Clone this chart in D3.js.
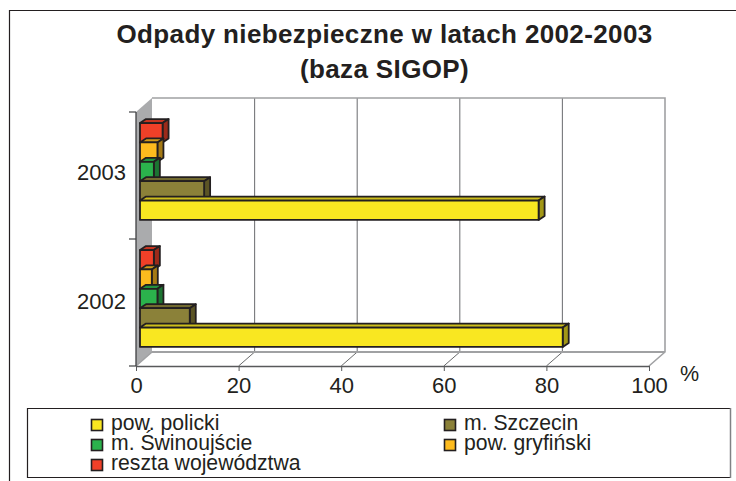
<!DOCTYPE html>
<html>
<head>
<meta charset="utf-8">
<script src="https://cdn.jsdelivr.net/npm/d3@7"></script>
<style>
  html, body { margin: 0; padding: 0; background: #fff; }
  text { font-family: "Liberation Sans", Arial, sans-serif; fill: #231f20; }
</style>
</head>
<body>
<div id="chart"></div>
<script>
{
  // Data //////////////////////////////////////////////////////////////////
  const years = ['2002', '2003'];
  const seriesNames = ['pow. policki', 'm. Szczecin', 'm. Świnoujście', 'pow. gryfiński', 'reszta województwa'];
  const values2002 = [82.4, 9.7, 3.4, 2.3, 2.7];
  const values2003 = [77.7, 12.5, 2.7, 3.4, 4.4];
  const valuesByYear = { '2002': values2002, '2003': values2003 };
  const xTicks = [0, 20, 40, 60, 80, 100];
  const titleLines = ['Odpady niebezpieczne w latach 2002-2003', '(baza SIGOP)'];

  const seriesColors = ['#f9e721', '#8b8139', '#2bb24c', '#fdbb1e', '#f04028'];
  const ink = '#231f20';
  const wallGrey = '#aaabad';

  const width = 736, height = 481;
  const svg = d3.select('#chart').append('svg')
    .attr('width', width)
    .attr('height', height)
    .style('display', 'block');

  // Outer frame: left and top only, it runs off the picture
  svg.append('path')
    .attr('d', 'M9.5,481V10.5H736')
    .attr('fill', 'none')
    .attr('stroke', ink)
    .attr('stroke-width', 1.2);

  // Title
  svg.selectAll('.title')
    .data(titleLines)
    .enter().append('text')
    .attr('class', 'title')
    .attr('x', 384.5)
    .attr('y', (d, i) => 43 + i * 34.5)
    .attr('text-anchor', 'middle')
    .attr('font-size', 26)
    .attr('font-weight', 'bold')
    .attr('letter-spacing', 0.37)
    .text(d => d);

  // Scales ////////////////////////////////////////////////////////////////
  const x = d3.scaleLinear().domain([0, 100]).range([136, 649]);
  const y = d3.scaleBand().domain(years).range([366, 112]);
  const ySeries = d3.scaleBand()
    .domain(seriesNames)
    .range([y.bandwidth(), 0])
    .paddingOuter(0.78);

  // Depth of the 3D box and of the bars in it
  const wall = { dx: 16, dy: -14 };
  const barShift = { dx: 4, dy: -4 };
  const barDepth = { dx: 6, dy: -4 };

  const [x0, x1] = x.range();
  const [yBottom, yTop] = y.range();

  // Box ///////////////////////////////////////////////////////////////////
  const box = svg.append('g');

  // Left wall
  box.append('path')
    .attr('d', `M${x0},${yBottom}L${x0},${yTop}L${x0 + wall.dx},${yTop + wall.dy}L${x0 + wall.dx},${yBottom + wall.dy}Z`)
    .attr('fill', wallGrey);

  // Grid on the back plane and on the floor
  box.selectAll('.grid')
    .data(xTicks.slice(1, -1))
    .enter().append('path')
    .attr('class', 'grid')
    .attr('d', d => `M${x(d) + wall.dx},${yTop + wall.dy}V${yBottom + wall.dy}`)
    .attr('stroke', '#77787b')
    .attr('stroke-width', 1.1)
    .attr('fill', 'none');

  box.selectAll('.floor-grid')
    .data(xTicks.slice(1, -1))
    .enter().append('path')
    .attr('class', 'floor-grid')
    .attr('d', d => `M${x(d)},${yBottom}L${x(d) + wall.dx},${yBottom + wall.dy}`)
    .attr('stroke', '#58595b')
    .attr('stroke-width', 0.9)
    .attr('fill', 'none');

  // Top, right and back floor edges
  box.append('path')
    .attr('d', `M${x0 + wall.dx},${yTop + wall.dy}H${x1 + wall.dx}V${yBottom + wall.dy}L${x1},${yBottom}`)
    .attr('stroke', '#a0a1a3')
    .attr('stroke-width', 1.6)
    .attr('fill', 'none');
  box.append('path')
    .attr('d', `M${x0 + wall.dx},${yBottom + wall.dy}H${x1 + wall.dx}`)
    .attr('stroke', '#a0a1a3')
    .attr('stroke-width', 2)
    .attr('fill', 'none');
  box.append('path')
    .attr('d', `M${x0},${yBottom}L${x0 + wall.dx},${yBottom + wall.dy}`)
    .attr('stroke', '#a0a1a3')
    .attr('stroke-width', 1.5)
    .attr('fill', 'none');

  // Axes //////////////////////////////////////////////////////////////////
  const xAxis = svg.append('g')
    .attr('transform', `translate(0,${yBottom})`)
    .call(d3.axisBottom(x).tickValues(xTicks).tickSize(5).tickPadding(6).tickSizeOuter(0));
  xAxis.select('.domain').attr('stroke', '#58595b').attr('stroke-width', 1.3);
  xAxis.selectAll('.tick line').attr('stroke', '#58595b').attr('stroke-width', 1);
  xAxis.selectAll('.tick text')
    .attr('font-size', 22)
    .attr('font-family', '"Liberation Sans", Arial, sans-serif')
    .attr('fill', ink);

  const yAxis = svg.append('g')
    .attr('transform', `translate(${x0},0)`)
    .call(d3.axisLeft(y).tickSize(0).tickPadding(10));
  yAxis.select('.domain').remove();
  yAxis.selectAll('.tick text')
    .attr('font-size', 22)
    .attr('font-family', '"Liberation Sans", Arial, sans-serif')
    .attr('fill', ink)
    .attr('y', d => d === '2003' ? -2.5 : -1);

  // Left axis line with ticks at the band edges
  svg.append('path')
    .attr('d', `M${x0},${yTop}V${yBottom}`)
    .attr('stroke', '#3f4042')
    .attr('stroke-width', 1.3);
  svg.selectAll('.band-tick')
    .data([yTop, y('2002'), yBottom])
    .enter().append('path')
    .attr('class', 'band-tick')
    .attr('d', d => `M${x0 - 7},${d}H${x0}`)
    .attr('stroke', '#3f4042')
    .attr('stroke-width', 1.2);

  // Percent sign next to the axis
  svg.append('text')
    .attr('x', 680)
    .attr('y', 381)
    .attr('font-size', 21.5)
    .text('%');

  // Bars //////////////////////////////////////////////////////////////////
  // Each bar is a front rectangle with a side and a top face behind it.
  // Drawn from the top category downwards so lower bars overlap upper depth.
  const barData = [];
  ['2003', '2002'].forEach(year => {
    seriesNames.slice().reverse().forEach(name => {
      const i = seriesNames.indexOf(name);
      barData.push({ year, name, value: valuesByYear[year][i], color: seriesColors[i] });
    });
  });

  const bars = svg.selectAll('.bar')
    .data(barData)
    .enter().append('g')
    .attr('class', 'bar')
    .attr('stroke', ink)
    .attr('stroke-width', 1.8)
    .attr('stroke-linejoin', 'round');

  const left = () => x0 + barShift.dx;
  const right = d => x(d.value) + barShift.dx;
  const top = d => y(d.year) + ySeries(d.name) + barShift.dy;
  const bottom = d => top(d) + ySeries.bandwidth();

  // Top face
  bars.append('path')
    .attr('d', d => `M${left()},${top(d)}l${barDepth.dx},${barDepth.dy}H${right(d) + barDepth.dx}L${right(d)},${top(d)}Z`)
    .attr('fill', d => d3.color(d.color).darker(0.55));
  // Side face
  bars.append('path')
    .attr('d', d => `M${right(d)},${top(d)}l${barDepth.dx},${barDepth.dy}V${bottom(d) + barDepth.dy}L${right(d)},${bottom(d)}Z`)
    .attr('fill', d => d3.color(d.color).darker(1.2));
  // Front face
  bars.append('rect')
    .attr('x', left())
    .attr('y', top)
    .attr('width', d => right(d) - left())
    .attr('height', ySeries.bandwidth())
    .attr('fill', d => d.color);

  // Legend ////////////////////////////////////////////////////////////////
  svg.append('path')
    .attr('d', 'M730.5,408.5H27.5V477.5H730.5')
    .attr('fill', '#fff')
    .attr('stroke', ink)
    .attr('stroke-width', 1.2);
  svg.append('path')
    .attr('d', 'M730.5,408V478')
    .attr('stroke', '#808285')
    .attr('stroke-width', 1.5);

  const legend = svg.selectAll('.legend')
    .data(seriesNames)
    .enter().append('g')
    .attr('class', 'legend')
    .attr('transform', (d, i) => `translate(${i % 2 ? 444.5 : 91.5},${419.5 + Math.floor(i / 2) * 20})`);

  legend.append('rect')
    .attr('width', 11)
    .attr('height', 11)
    .attr('fill', (d, i) => seriesColors[i])
    .attr('stroke', ink)
    .attr('stroke-width', 1.6);

  legend.append('text')
    .attr('x', 19.5)
    .attr('y', 10.5)
    .attr('font-size', 21.2)
    .text(d => d);
}
</script>
</body>
</html>
